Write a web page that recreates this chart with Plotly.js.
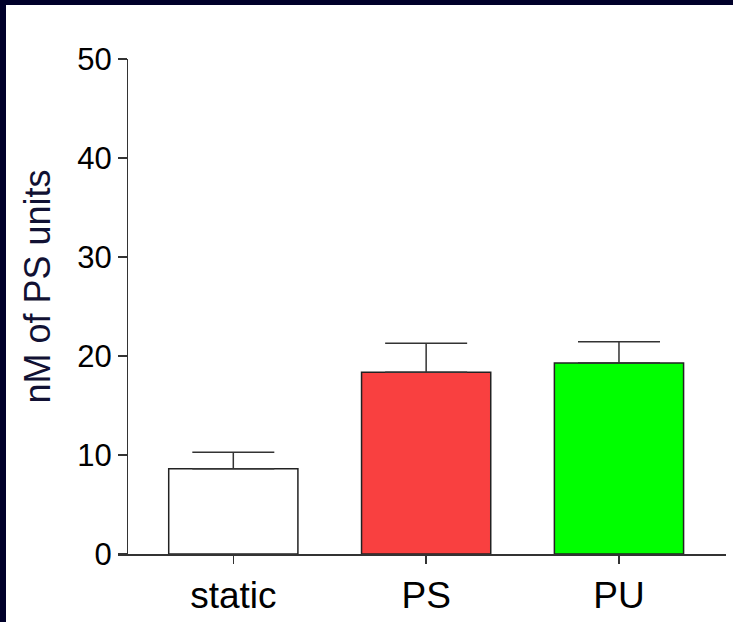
<!DOCTYPE html>
<html>
<head>
<meta charset="utf-8">
<script src="https://cdn.plot.ly/plotly-3.0.1.min.js"></script>
<style>
  html, body { margin: 0; padding: 0; width: 733px; height: 622px; background: #00002a; overflow: hidden; }
  #chart { position: absolute; left: 6px; top: 5px; width: 727px; height: 617px; background: #fff; }
</style>
</head>
<body>
<div id="chart"></div>
<script>
const categories = ["static", "PS", "PU"];
const means = [8.6, 18.35, 19.3];
const sems = [1.67, 2.93, 2.15];
const barColors = ["#ffffff", "#f94040", "#00ff00"];
const yTickVals = [0, 10, 20, 30, 40, 50];
const yTitle = "nM of PS units";

const font = "Liberation Sans, Arial, sans-serif";

const trace = {
  type: "bar",
  x: categories,
  y: means,
  width: 0.67,
  marker: { color: barColors, line: { color: "#222222", width: 1.5 } },
  error_y: { type: "data", array: sems, symmetric: false, arrayminus: [0, 0, 0], color: "#333333", thickness: 1.5, width: 41 },
  hoverinfo: "none"
};

const layout = {
  width: 727,
  height: 617,
  margin: { l: 112, r: 7, t: 54, b: 68, pad: 0 },
  paper_bgcolor: "#ffffff",
  plot_bgcolor: "#ffffff",
  showlegend: false,
  xaxis: {
    type: "category",
    range: [-0.598, 2.555],
    showgrid: false,
    zeroline: false,
    showline: true,
    linecolor: "#333333",
    linewidth: 1.5,
    ticks: "outside",
    ticklen: 8,
    tickwidth: 1.5,
    tickcolor: "#333333",
    tickfont: { family: font, size: 37, color: "#000000" },
    fixedrange: true
  },
  yaxis: {
    range: [0, 50],
    anchor: "free",
    position: 0.0148,
    tickvals: yTickVals,
    ticktext: yTickVals.map(String),
    showgrid: false,
    zeroline: false,
    showline: true,
    linecolor: "#333333",
    linewidth: 1.5,
    ticks: "outside",
    ticklen: 9,
    tickwidth: 1.5,
    tickcolor: "#333333",
    tickfont: { family: font, size: 31, color: "#000000" },
    fixedrange: true
  },
  annotations: [{
    text: yTitle,
    xref: "paper", yref: "paper",
    x: -0.1316, y: 0.5404,
    xanchor: "center", yanchor: "middle",
    textangle: -90,
    showarrow: false,
    font: { family: font, size: 36, color: "#111133" }
  }]
};

Plotly.newPlot("chart", [trace], layout, { staticPlot: true, displayModeBar: false });
</script>
</body>
</html>
